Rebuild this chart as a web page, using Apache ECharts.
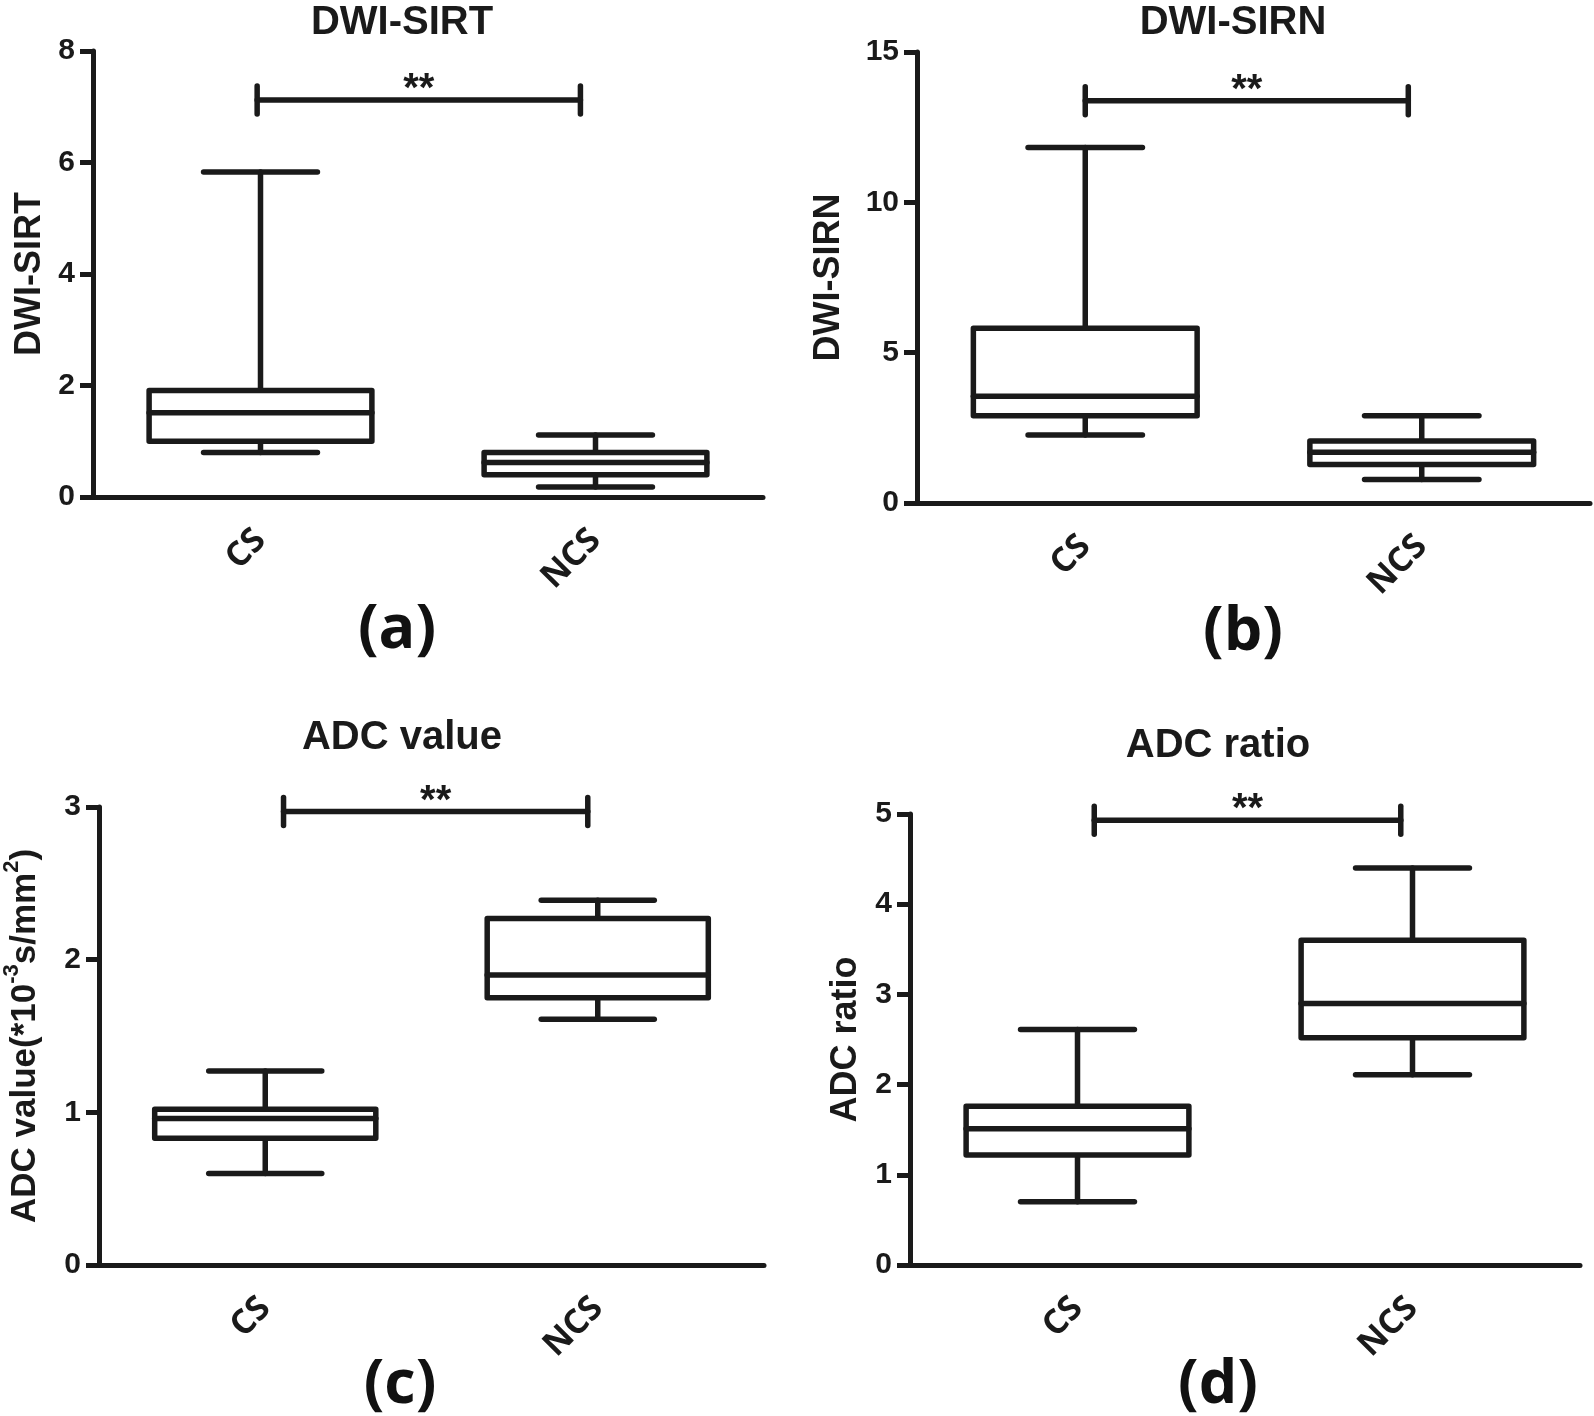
<!DOCTYPE html>
<html>
<head>
<meta charset="utf-8">
<script src="https://cdn.jsdelivr.net/npm/echarts@6/dist/echarts.min.js"></script>
<style>
html,body{margin:0;padding:0;background:#fff;}
#chart{width:1594px;height:1416px;}
</style>
</head>
<body>
<div id="chart"></div>
<script>
// ---- data ----
const categories = ['CS', 'NCS'];
const panelTitles = ['DWI-SIRT', 'DWI-SIRN', 'ADC value', 'ADC ratio'];
const panelLetters = ['(a)', '(b)', '(c)', '(d)'];
const yAxisNames = ['DWI-SIRT', 'DWI-SIRN', '{n|ADC value(*10}{s|-3}{n|s/mm}{s|2}{n|)}', 'ADC ratio'];
const yMax = [8, 15, 3, 5];
const yInterval = [2, 5, 1, 1];
// [min, q1, median, q3, max] for CS and NCS
const sirtBoxes = [[0.80, 1.00, 1.51, 1.91, 5.83], [0.18, 0.40, 0.62, 0.80, 1.11]];
const sirnBoxes = [[2.26, 2.90, 3.55, 5.81, 11.82], [0.78, 1.28, 1.69, 2.06, 2.90]];
const adcValueBoxes = [[0.60, 0.83, 0.96, 1.02, 1.27], [1.61, 1.75, 1.90, 2.27, 2.39]];
const adcRatioBoxes = [[0.70, 1.22, 1.51, 1.76, 2.61], [2.11, 2.52, 2.90, 3.60, 4.40]];
const sigLevels = [7.12, 13.38, 2.97, 4.93];
const sigText = '**';

// ---- layout / style ----
const INK = '#1a1a1a';
const LW = 5.5;
const grids = [
  {left: 93, top: 51, width: 670, height: 446},
  {left: 917, top: 52, width: 673, height: 451},
  {left: 93, top: 807, width: 671, height: 458},
  {left: 910, top: 814, width: 670, height: 451}
];
const sigOffsets = [[-0.01, -0.045], [0.0, -0.04], [0.055, -0.03], [0.05, -0.035]];
const nameGaps = [45, 70, 50, 46];
const titlePos = [[402, 3], [1233, 3], [402, 718], [1218, 726]];
const letterPos = [[397, 600], [1243, 602], [400, 1355], [1218, 1355]];
const allBoxes = [sirtBoxes, sirnBoxes, adcValueBoxes, adcRatioBoxes];

function renderBox(params, api) {
  const xi = api.value(0);
  const pMin = api.coord([xi, api.value(1)]);
  const pQ1 = api.coord([xi, api.value(2)]);
  const pMed = api.coord([xi, api.value(3)]);
  const pQ3 = api.coord([xi, api.value(4)]);
  const pMax = api.coord([xi, api.value(5)]);
  const band = api.size([1, 0])[0];
  const bw = band * 0.665;
  const cw = band * 0.34;
  const cx = pMed[0];
  const ls = {stroke: INK, lineWidth: LW, lineCap: 'round'};
  return {
    type: 'group',
    children: [
      {type: 'line', shape: {x1: cx, y1: pMax[1], x2: cx, y2: pQ3[1]}, style: ls},
      {type: 'line', shape: {x1: cx, y1: pQ1[1], x2: cx, y2: pMin[1]}, style: ls},
      {type: 'line', shape: {x1: cx - cw / 2, y1: pMax[1], x2: cx + cw / 2, y2: pMax[1]}, style: ls},
      {type: 'line', shape: {x1: cx - cw / 2, y1: pMin[1], x2: cx + cw / 2, y2: pMin[1]}, style: ls},
      {type: 'rect', shape: {x: cx - bw / 2, y: pQ3[1], width: bw, height: pQ1[1] - pQ3[1]},
        style: {fill: '#fff', stroke: INK, lineWidth: LW, lineJoin: 'round'}},
      {type: 'line', shape: {x1: cx - bw / 2, y1: pMed[1], x2: cx + bw / 2, y2: pMed[1]}, style: ls}
    ]
  };
}

function makeSigRenderer(k) {
  return function (params, api) {
    const y = api.value(2);
    const band = api.size([1, 0])[0];
    const p1 = api.coord([api.value(0), y]);
    const p2 = api.coord([api.value(1), y]);
    const x1 = p1[0] + sigOffsets[k][0] * band;
    const x2 = p2[0] + sigOffsets[k][1] * band;
    const yy = p1[1];
    const ls = {stroke: INK, lineWidth: LW, lineCap: 'round'};
    return {
      type: 'group',
      children: [
        {type: 'line', shape: {x1: x1, y1: yy, x2: x2, y2: yy}, style: ls},
        {type: 'line', shape: {x1: x1, y1: yy - 14, x2: x1, y2: yy + 14}, style: ls},
        {type: 'line', shape: {x1: x2, y1: yy - 14, x2: x2, y2: yy + 14}, style: ls},
        {type: 'text', style: {x: (x1 + x2) / 2, y: yy + 10, text: sigText, fill: INK,
          font: 'bold 40px "Liberation Sans"', align: 'center', verticalAlign: 'bottom'}}
      ]
    };
  };
}

const option = {
  backgroundColor: '#fff',
  animation: false,
  title: [],
  grid: grids.map(g => Object.assign({containLabel: false}, g)),
  xAxis: [],
  yAxis: [],
  series: []
};

for (let k = 0; k < 4; k++) {
  option.title.push({
    text: panelTitles[k], left: titlePos[k][0], top: titlePos[k][1], textAlign: 'center', padding: 0,
    textStyle: {fontFamily: 'Liberation Sans', fontWeight: 'bold', fontSize: 40, color: INK}
  });
  option.title.push({
    text: panelLetters[k], left: letterPos[k][0], top: letterPos[k][1], textAlign: 'center', padding: 0,
    textStyle: {fontFamily: 'Open Sans', fontWeight: 'bold', fontSize: 61, color: '#111'}
  });
  option.xAxis.push({
    type: 'category', gridIndex: k, data: categories, boundaryGap: true,
    axisLine: {lineStyle: {color: INK, width: 5}},
    axisTick: {alignWithLabel: true, length: 13, lineStyle: {color: INK, width: 5}},
    axisLabel: {rotate: 45, margin: 38, color: INK, fontFamily: 'Open Sans', fontWeight: 'bold', fontSize: 34},
    splitLine: {show: false}
  });
  option.yAxis.push({
    type: 'value', gridIndex: k, min: 0, max: yMax[k], interval: yInterval[k],
    name: yAxisNames[k], nameLocation: 'middle', nameGap: nameGaps[k], nameRotate: 90,
    nameTextStyle: {
      color: INK, fontFamily: 'Liberation Sans', fontWeight: 'bold', fontSize: 36,
      rich: {
        n: {fontFamily: 'Liberation Sans', fontWeight: 'bold', fontSize: 35, color: INK, lineHeight: 48},
        s: {fontFamily: 'Liberation Sans', fontWeight: 'bold', fontSize: 22, color: INK, verticalAlign: 'top', lineHeight: 48}
      }
    },
    axisLine: {show: true, lineStyle: {color: INK, width: 5}},
    axisTick: {show: true, length: 13, lineStyle: {color: INK, width: 5}},
    axisLabel: {margin: 18, color: INK, fontFamily: 'Liberation Sans', fontWeight: 'bold', fontSize: 30},
    splitLine: {show: false}
  });
  option.series.push({
    type: 'custom', xAxisIndex: k, yAxisIndex: k,
    renderItem: renderBox,
    encode: {x: 0, y: [1, 2, 3, 4, 5]},
    data: allBoxes[k].map((b, i) => [i].concat(b)),
    z: 3
  });
  option.series.push({
    type: 'custom', xAxisIndex: k, yAxisIndex: k,
    renderItem: makeSigRenderer(k),
    encode: {x: [0, 1], y: 2},
    data: [[0, 1, sigLevels[k]]],
    z: 4
  });
}

const chart = echarts.init(document.getElementById('chart'), null, {renderer: 'canvas'});
chart.setOption(option);
</script>
</body>
</html>
